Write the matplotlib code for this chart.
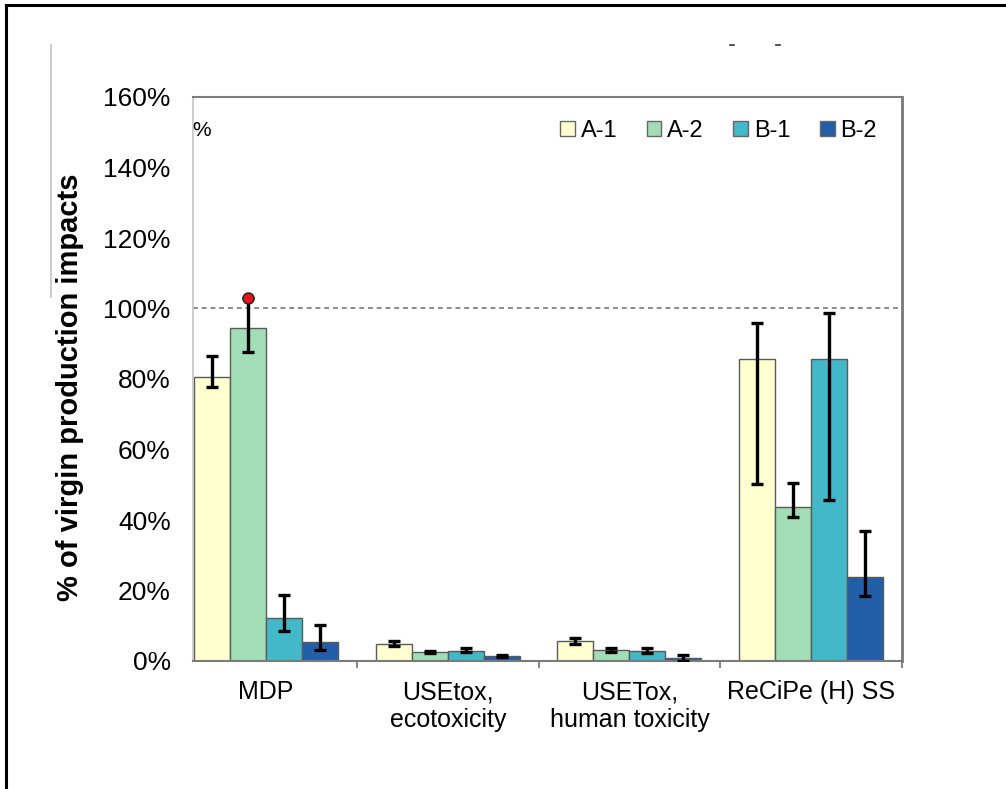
import matplotlib
matplotlib.use("Agg")
import matplotlib.pyplot as plt
from matplotlib.patches import Patch
from matplotlib.lines import Line2D
import numpy as np

plt.rcParams['font.family'] = ['Liberation Sans', 'DejaVu Sans']

# Impact categories and scenarios
categories = ["MDP", "USEtox,\necotoxicity", "USETox,\nhuman toxicity", "ReCiPe (H) SS"]
series = ["A-1", "A-2", "B-1", "B-2"]

# Share of virgin production impacts (%)
a1 = [80.5, 4.9, 5.6, 85.8]
a2 = [94.5, 2.5, 3.2, 43.8]
b1 = [12.3, 2.8, 2.8, 85.8]
b2 = [5.3, 1.3, 0.8, 23.9]

# Uncertainty range: lower / upper bounds (%)
a1_low = [77.8, 4.3, 4.9, 50.2]
a1_high = [86.6, 5.8, 6.6, 96.0]
a2_low = [87.7, 2.2, 2.5, 40.8]
a2_high = [103.0, 2.8, 3.8, 50.4]
b1_low = [8.6, 2.5, 2.3, 45.6]
b1_high = [18.7, 3.6, 3.6, 98.8]
b2_low = [3.1, 1.0, 0.1, 18.5]
b2_high = [10.2, 1.6, 1.6, 37.0]

y_ticks = [0, 20, 40, 60, 80, 100, 120, 140, 160]
reference_level = 100

colors = ["#FFFFD0", "#A3DDB6", "#42B8C9", "#235FA9"]

W, H = 1006, 789
fig = plt.figure(figsize=(W / 100, H / 100), dpi=100)
ax = fig.add_axes([193 / W, 1 - 661 / H, (902 - 193) / W, (661 - 97) / H])

x = np.arange(len(categories))
bw = 0.198
values = [a1, a2, b1, b2]
lows = [a1_low, a2_low, b1_low, b2_low]
highs = [a1_high, a2_high, b1_high, b2_high]

for i, (name, vals, lo, hi, c) in enumerate(zip(series, values, lows, highs, colors)):
    pos = x + (i - 1.5) * bw
    vals = np.array(vals)
    lo = np.array(lo)
    hi = np.array(hi)
    ax.bar(pos, vals, width=bw, color=c, edgecolor="#5a5a5a", linewidth=1.0, zorder=2)
    yerr = np.vstack([vals - lo, hi - vals])
    ax.errorbar(pos, vals, yerr=yerr, fmt="none", ecolor="black", elinewidth=2.4,
                capsize=4.5, capthick=2.4, zorder=3)

# Red marker on the upper bound of A-2 for MDP
ax.plot(0 + (1 - 1.5) * bw, a2_high[0], marker="o", markersize=8,
        markerfacecolor="#E8141B", markeredgecolor="#222222", markeredgewidth=1.0,
        zorder=4, clip_on=False)

# Reference level of virgin production
ax.axhline(reference_level, color="#8a8a8a", linestyle=(0, (2.5, 2)), linewidth=1.4, zorder=1)

ax.set_xlim(-0.402, 3.5)
ax.set_ylim(0, 160)
ax.set_yticks(y_ticks)
ax.set_yticklabels([f"{t}%" for t in y_ticks], fontsize=19)
ax.tick_params(axis="y", length=0, pad=16)
ax.set_xticks(x)
ax.set_xticklabels(categories, fontsize=18, linespacing=1.2)
ax.tick_params(axis="x", which="major", length=0, pad=14)
ax.set_xticks([0.5, 1.5, 2.5, 3.5], minor=True)
ax.tick_params(axis="x", which="minor", length=5, width=1.5, color="#888888", direction="out")

ax.spines["left"].set_color("#c4c4c4")
ax.spines["left"].set_linewidth(1.2)
ax.spines["bottom"].set_color("#7a7a7a")
ax.spines["bottom"].set_linewidth(1.5)
ax.spines["top"].set_color("#7a7a7a")
ax.spines["top"].set_linewidth(1.5)
ax.spines["right"].set_color("#777777")
ax.spines["right"].set_linewidth(2.0)

fig.text(70 / W, 1 - 387 / H, "% of virgin production impacts", rotation=90,
         fontsize=21, fontweight="bold", ha="center", va="center")

fig.text(192 / W, 1 - 131 / H, "%", fontsize=15, ha="left", va="center")

handles = [Patch(facecolor=c, edgecolor="#666666", linewidth=1.0) for c in colors]
fig.legend(handles, series, loc="center left", bbox_to_anchor=(560 / W, 1 - 131 / H),
           ncol=4, frameon=False, fontsize=17, handlelength=0.62, handleheight=0.62,
           handletextpad=0.25, columnspacing=1.25, borderpad=0, borderaxespad=0)

# Page frame and leftover marks
fig.add_artist(Line2D([6 / W, 6 / W], [0, 1 - 5 / H], color="black", linewidth=2.2))
fig.add_artist(Line2D([6 / W, 1], [1 - 5 / H, 1 - 5 / H], color="black", linewidth=2.2))
fig.add_artist(Line2D([51 / W, 51 / W], [1 - 45 / H, 1 - 297 / H], color="#c8c8c8", linewidth=1.3))
for mx in (732, 778):
    fig.add_artist(Line2D([(mx - 2) / W, (mx + 2) / W], [1 - 45 / H, 1 - 45 / H],
                          color="#333333", linewidth=1.2))

fig.savefig("out.png", dpi=100)
